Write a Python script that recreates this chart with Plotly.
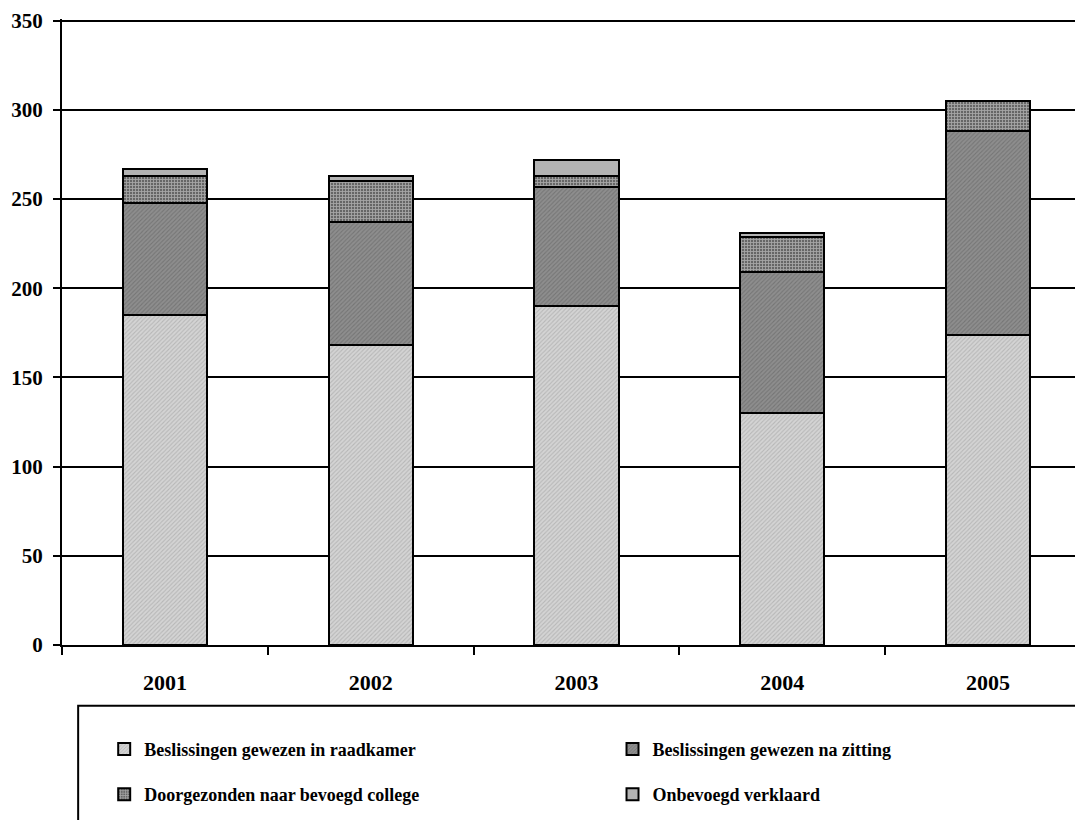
import plotly.graph_objects as go

years = ["2001", "2002", "2003", "2004", "2005"]
raadkamer = [185, 168, 190, 130, 174]
zitting = [63, 69, 67, 79, 114]
doorgezonden = [15, 23, 6, 20, 17]
onbevoegd = [4, 3, 9, 2, 0]

names = ["Beslissingen gewezen in raadkamer", "Beslissingen gewezen na zitting",
         "Doorgezonden naar bevoegd college", "Onbevoegd verklaard"]

FONT = "Liberation Serif"
fig = go.Figure()

styles = [
    dict(color="#cfcfcf", pattern=dict(shape="/", size=3, solidity=0.35, fgcolor="#9a9a9a", bgcolor="#d4d4d4")),
    dict(color="#858585", pattern=dict(shape="/", size=3, solidity=0.35, fgcolor="#5c5c5c", bgcolor="#8e8e8e")),
    dict(color="#8a8a8a", pattern=dict(shape="+", size=3, solidity=0.5, fgcolor="#e6e6e6", bgcolor="#666666")),
    dict(color="#b3b3b3"),
]
legends = ["legend", "legend2", "legend", "legend2"]
series = [raadkamer, zitting, doorgezonden, onbevoegd]

for i, (n, v) in enumerate(zip(names, series)):
    m = dict(styles[i])
    m["line"] = dict(color="black", width=2)
    fig.add_trace(go.Bar(x=years, y=v, name=n, marker=m, legend=legends[i],
                         legendgroup=n))

legfont = dict(family=FONT, size=18, color="black", weight="bold")
fig.update_layout(
    barmode="stack",
    bargap=0.59,
    width=1083, height=820,
    margin=dict(l=54, r=0, t=11, b=183),
    plot_bgcolor="white", paper_bgcolor="white",
    font=dict(family=FONT, size=21, color="black"),
    legend=dict(x=0.041, y=-0.137, xanchor="left", yanchor="top", orientation="v",
                font=legfont, tracegroupgap=19, itemwidth=30, bgcolor="rgba(0,0,0,0)"),
    legend2=dict(x=0.535, y=-0.137, xanchor="left", yanchor="top", orientation="v",
                 font=legfont, tracegroupgap=19, itemwidth=30, bgcolor="rgba(0,0,0,0)"),
    shapes=[dict(type="rect", xref="paper", yref="paper", x0=0.0157, x1=1.03,
                 y0=-0.097, y1=-0.36, line=dict(color="black", width=2))],
)
fig.update_xaxes(showline=True, linecolor="black", linewidth=2, ticks="outside",
                 tickson="boundaries", ticklen=8, tickwidth=2, tickcolor="black",
                 ticklabelstandoff=17, automargin=False,
                 tickfont=dict(family=FONT, size=22, weight="bold"), showgrid=False)
fig.update_yaxes(range=[0, 351], tick0=0, dtick=50, showline=True, linecolor="black", linewidth=2,
                 ticks="outside", ticklen=7, tickwidth=2, tickcolor="black",
                 ticklabelstandoff=6, automargin=False, ticklabeloverflow="allow",
                 showgrid=True, gridcolor="black", gridwidth=2, zeroline=False,
                 tickfont=dict(family=FONT, size=21, weight="bold"))

fig.write_html("out.html")
